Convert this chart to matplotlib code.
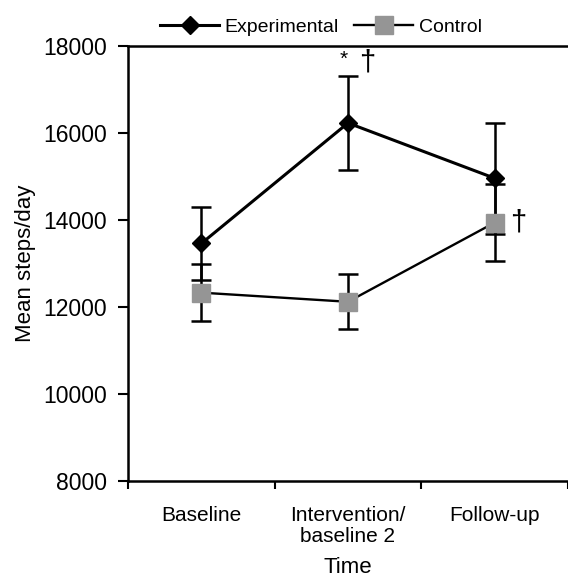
import matplotlib
matplotlib.use('Agg')
import matplotlib.pyplot as plt
from matplotlib.lines import Line2D

# Data
categories = ['Baseline', 'Intervention/\nbaseline 2', 'Follow-up']
exp_mean = [13460, 16230, 14960]
exp_err = [830, 1070, 1280]
ctl_mean = [12330, 12120, 13940]
ctl_err = [650, 630, 880]

plt.rcParams['font.family'] = ['Liberation Sans', 'DejaVu Sans']

fig = plt.figure(figsize=(5.68, 5.78), dpi=100)
ax = fig.add_axes([128 / 568, 1 - 481 / 578, 440 / 568, 435 / 578])

xpos = [i + 0.5 for i in range(len(categories))]

exp_style = dict(color='black', lw=2.2, marker='D', markersize=9.2,
                 markerfacecolor='black', markeredgecolor='black')
ctl_style = dict(color='black', lw=1.7, marker='s', markersize=13,
                 markerfacecolor='#959595', markeredgecolor='#959595')

ax.errorbar(xpos, exp_mean, yerr=exp_err, ecolor='black', elinewidth=1.8,
            capsize=7, capthick=1.8, zorder=3, **exp_style)
ax.errorbar(xpos, ctl_mean, yerr=ctl_err, ecolor='black', elinewidth=1.8,
            capsize=7, capthick=1.8, zorder=4, **ctl_style)

# significance markers
ax.text(xpos[1] - 0.03, exp_mean[1] + exp_err[1] + 180, '*', ha='center',
        va='bottom', fontsize=15)
ax.text(xpos[1] + 0.13, exp_mean[1] + exp_err[1] + 0, '\u2020', ha='center',
        va='bottom', fontsize=21)
ax.text(xpos[2] + 0.16, ctl_mean[2], '\u2020', ha='center', va='center',
        fontsize=21)

ax.set_xlim(0, 2.93)
ax.set_ylim(8000, 18000)
ax.set_yticks(range(8000, 18001, 2000))
ax.set_xticks([0, 1, 2, 3])
ax.set_xticklabels([])
ax.set_xticks(xpos, minor=True)
ax.set_xticklabels(categories, minor=True, linespacing=1.15)
ax.tick_params(axis='x', which='minor', length=0, pad=18, labelsize=15)
ax.tick_params(axis='x', which='major', direction='out', length=6, width=1.5)
ax.tick_params(axis='y', which='major', direction='out', length=7, width=1.5,
               pad=8, labelsize=16.5)

for s in ['left', 'bottom', 'top']:
    ax.spines[s].set_linewidth(1.8)
ax.spines['right'].set_visible(False)

ax.set_ylabel('Mean steps/day', fontsize=16, labelpad=5)
ax.set_xlabel('Time', fontsize=16, labelpad=8)

handles = [Line2D([], [], **exp_style), Line2D([], [], **ctl_style)]
fig.legend(handles, ['Experimental', 'Control'], loc='center',
           bbox_to_anchor=(321 / 568, 1 - 27 / 578), ncol=2,
           frameon=False, fontsize=14, handlelength=3.0,
           columnspacing=0.8, handletextpad=0.3)

fig.savefig('out.png', dpi=100)
plt.close(fig)
